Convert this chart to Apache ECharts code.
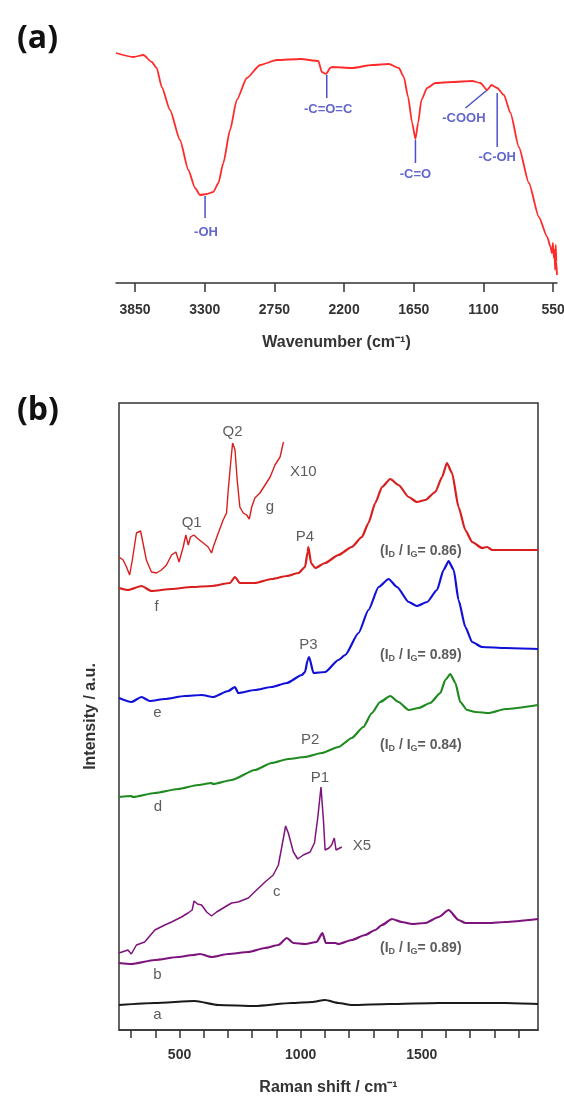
<!DOCTYPE html>
<html><head><meta charset="utf-8">
<script src="https://cdn.jsdelivr.net/npm/echarts@6/dist/echarts.min.js"></script>
<style>html,body{margin:0;padding:0;background:#fff}#c{width:564px;height:1097px}</style>
</head><body><div id="c"></div>
<script>
// ---------- Panel (a): FTIR ----------
const ftirWavenumber = [4000,3863,3784,3718,3679,3639,3574,3495,3429,3376,3337,3284,3232,3192,3153,3100,3047,2968,2863,2731,2547,2403,2376,2342,2310,2295,2137,1979,1847,1768,1729,1695,1663,1637,1616,1590,1545,1479,1347,1189,1124,1071,1037,992,939,887,821,742,663,597,571,560,552,545,540,535,530,525,520];
const ftirTransmittance = [230,226,228,221,215,196,173,143,113,95,88,89,91,100,120,153,183,205,218,223,224,222,211,209,215,216,215,218,219,215,206,186,160,144,160,183,195,200,201,202,200,193,198,195,188,170,136,100,66,46,36,30,40,25,33,13,38,21,8];
const ftirTicks = [3850,3300,2750,2200,1650,1100,550];

const annoLabel = ['-OH','-C=O=C','-C=O','-COOH','-C-OH'];
const annoLineX1 = [3297,2337,1637,1071,992];
const annoLineY1 = [87,208,143,193,190];
const annoLineX2 = [3297,2337,1637,1242,992];
const annoLineY2 = [65,185,120,175,136];
const annoTextX = [3290,2326,1637,1255,992];
const annoTextY = [51,174,109,165,126];

// ---------- Panel (b): Raman ----------
const shiftG = [250,267,281,294,305,322,339,349,363,384,405,425,446,467,485,498,515,526,536,545,559,577,598,618,632,642,660,680,694,701,711,719,729,738,749,763,777,788,798,811,832,853,874,894,915,929];
const intG = [473,470,463,455,470,497,499,487,470,458,457,460,465,475,478,468,483,495,485,493,495,491,487,483,477,485,497,510,517,540,567,587,580,550,523,517,515,511,523,532,537,545,553,565,573,588];

const shiftF = [250,287,343,384,467,550,632,708,729,749,811,880,943,991,1018,1029,1032,1043,1060,1101,1156,1211,1253,1280,1308,1336,1370,1404,1446,1480,1515,1556,1584,1604,1625,1652,1680,1708,1749,1770,1791,1846,1980];
const intF = [442,440,444,439,441,443,444,447,453,447,447,451,454,457,463,478,483,467,462,467,475,483,493,507,527,543,551,545,533,528,530,538,553,567,557,523,500,488,482,483,480,480,480];

const shiftE = [250,301,343,377,439,522,591,639,701,729,742,811,880,943,1005,1018,1029,1035,1053,1101,1156,1184,1239,1280,1322,1363,1398,1446,1480,1522,1563,1590,1611,1632,1652,1680,1708,1749,1846,1980];
const intE = [332,328,333,329,331,334,335,333,339,343,337,340,343,347,355,358,370,373,357,358,370,375,397,420,443,451,443,428,424,428,440,460,469,460,430,403,388,383,382,381];

const shiftD = [250,301,308,398,494,577,632,639,715,811,880,949,1018,1087,1156,1211,1259,1294,1328,1370,1404,1446,1487,1535,1577,1597,1618,1639,1659,1687,1722,1777,1846,1980];
const intD = [233,234,233,237,241,245,247,246,250,260,267,271,273,277,283,292,303,317,328,334,328,320,322,327,337,350,356,347,328,320,318,317,321,325];

const shiftC = [250,287,301,322,356,398,439,467,508,535,552,560,574,591,612,632,653,687,715,742,784,818,853,887,908,922,938,949,970,988,1011,1039,1057,1071,1084,1094,1101,1117,1128,1139,1146,1170];
const intC = [77,80,76,85,88,100,105,108,113,117,120,129,126,125,118,114,118,123,127,128,132,140,148,155,165,183,204,197,178,171,175,178,187,213,243,210,180,182,185,192,180,183];

const shiftB = [250,301,398,494,556,584,632,701,784,853,908,943,970,1018,1066,1090,1104,1143,1156,1211,1266,1308,1336,1377,1418,1460,1515,1570,1611,1652,1680,1777,1846,1980];
const intB = [67,66,70,73,75,76,73,76,78,82,85,92,87,86,88,97,87,87,86,90,95,100,105,111,108,106,107,113,120,110,107,107,108,111];

const shiftA = [250,398,563,660,811,963,1046,1101,1156,1211,1363,1570,1846,1980];
const intA = [25,27,29,25,24,27,28,30,27,25,26,27,27,26];

const ramanTicks = [300,400,500,600,700,800,900,1000,1100,1200,1300,1400,1500,1600,1700,1800,1900];
const ramanTickLabels = [500,1000,1500];

const ramanLabelText = ['Q2','Q1','X10','g','P4','f','P3','e','P2','d','P1','X5','c','b','a'];
const ramanLabelX = [719,550,1011,873,1018,405,1032,409,1039,411,1080,1253,901,409,409];
const ramanLabelY = [598,507,558,523,493,423,385,317,290,223,252,184,138,55,15];

const ratioText = ['0.86','0.89','0.84','0.89'];
const ratioX = [1496,1496,1496,1496];
const ratioY = [479,375,285,82];

// ---------- Chart ----------
const FONT = 'Liberation Sans, Arial, sans-serif';
const zip = (xs, ys) => xs.map((x, i) => [x, ys[i]]);
const series = [];

series.push({type:'line', xAxisIndex:0, yAxisIndex:0, data: zip(ftirWavenumber, ftirTransmittance),
  symbol:'none', smooth:0.2, smoothMonotone:'x', lineStyle:{color:'#ff2a2a', width:1.8}, z:3});
annoLabel.forEach((t, i) => {
  series.push({type:'line', xAxisIndex:0, yAxisIndex:0,
    data:[[annoLineX1[i], annoLineY1[i]], [annoLineX2[i], annoLineY2[i]]],
    symbol:'none', lineStyle:{color:'#4b50c8', width:1.5}, z:2});
});
series.push({type:'scatter', xAxisIndex:0, yAxisIndex:0, symbolSize:1,
  itemStyle:{color:'rgba(0,0,0,0)'},
  data: annoLabel.map((t, i) => ({name:t, value:[annoTextX[i], annoTextY[i]]})),
  label:{show:true, position:'inside', formatter:p => p.name, color:'#3b40c0',
    fontWeight:'bold', fontSize:13, fontFamily:FONT}});

const ramanCurves = [
  [shiftG, intG, '#d91e1e', 1.4, 0],
  [shiftF, intF, '#d91e1e', 2.2, 0.2],
  [shiftE, intE, '#1010d8', 2.2, 0.2],
  [shiftD, intD, '#1f8a1f', 2.2, 0.2],
  [shiftC, intC, '#7d137d', 1.5, 0],
  [shiftB, intB, '#7d137d', 2.2, 0.2],
  [shiftA, intA, '#1a1a1a', 2.2, 0.2]
];
ramanCurves.forEach(c => {
  series.push({type:'line', xAxisIndex:1, yAxisIndex:1, data: zip(c[0], c[1]),
    symbol:'none', smooth:c[4], smoothMonotone:'x', lineStyle:{color:c[2], width:c[3]}, z:3});
});
series.push({type:'scatter', xAxisIndex:1, yAxisIndex:1, symbolSize:1,
  itemStyle:{color:'rgba(0,0,0,0)'},
  data: ramanLabelText.map((t, i) => ({name:t, value:[ramanLabelX[i], ramanLabelY[i]]})),
  label:{show:true, position:'inside', formatter:p => p.name, color:'#333',
    fontSize:15, fontFamily:FONT}});
series.push({type:'scatter', xAxisIndex:1, yAxisIndex:1, symbolSize:1,
  itemStyle:{color:'rgba(0,0,0,0)'},
  data: ratioText.map((t, i) => ({name:t, value:[ratioX[i], ratioY[i]]})),
  label:{show:true, position:'inside',
    formatter:p => '(I{s|D} / I{s|G}= ' + p.name + ')',
    color:'#333', fontSize:14, fontWeight:'bold', fontFamily:FONT,
    rich:{s:{fontSize:9, fontWeight:'bold', color:'#333', fontFamily:FONT, padding:[8,0,0,0]}}}});

const axisText = {color:'#333', fontWeight:'bold', fontFamily:FONT};
const plain = v => String(v);
const option = {
  animation:false,
  backgroundColor:'#fff',
  title:[
    {text:'(a)', left:12, top:18, textStyle:{fontSize:32, fontWeight:'bold', color:'#111', fontFamily:'Open Sans'}},
    {text:'(b)', left:12, top:390, textStyle:{fontSize:32, fontWeight:'bold', color:'#111', fontFamily:'Open Sans'}}
  ],
  grid:[
    {left:116, right:7, top:43, bottom:814, outerBoundsMode:'none', containLabel:false},
    {left:119, right:26, top:403, bottom:67, outerBoundsMode:'none', containLabel:false,
     show:true, borderColor:'#333', borderWidth:1.5, backgroundColor:'rgba(0,0,0,0)'}
  ],
  xAxis:[
    {gridIndex:0, type:'value', min:520, max:4000, inverse:true,
     axisLine:{show:true, lineStyle:{color:'#333', width:1.5}},
     axisTick:{show:true, customValues:ftirTicks, length:9, lineStyle:{color:'#333', width:1.5}},
     axisLabel:Object.assign({customValues:ftirTicks, margin:20, fontSize:14, formatter:plain, hideOverlap:false}, axisText),
     splitLine:{show:false},
     name:'Wavenumber (cm⁻¹)', nameLocation:'middle', nameGap:52,
     nameTextStyle:Object.assign({fontSize:16}, axisText)},
    {gridIndex:1, type:'value', min:250, max:1980,
     axisLine:{show:true, lineStyle:{color:'#333', width:1.5}},
     axisTick:{show:true, customValues:ramanTicks, length:8, lineStyle:{color:'#333', width:1.5}},
     axisLabel:Object.assign({customValues:ramanTickLabels, margin:18, fontSize:14, formatter:plain}, axisText),
     splitLine:{show:false},
     name:'Raman shift / cm⁻¹', nameLocation:'middle', nameGap:50,
     nameTextStyle:Object.assign({fontSize:16}, axisText)}
  ],
  yAxis:[
    {gridIndex:0, type:'value', min:0, max:240, show:false},
    {gridIndex:1, type:'value', min:0, max:627,
     axisLine:{show:false}, axisTick:{show:false}, axisLabel:{show:false}, splitLine:{show:false},
     name:'Intensity / a.u.', nameLocation:'middle', nameGap:20, nameRotate:90,
     nameTextStyle:Object.assign({fontSize:16}, axisText)}
  ],
  series:series
};
const chart = echarts.init(document.getElementById('c'));
chart.setOption(option);
</script></body></html>
